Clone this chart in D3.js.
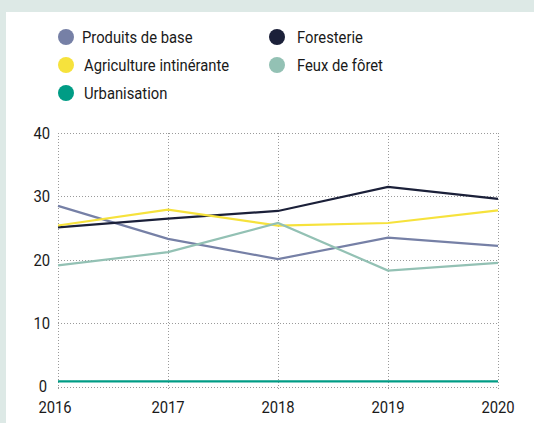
<!DOCTYPE html>
<html>
<head>
<meta charset="utf-8">
<script src="https://cdn.jsdelivr.net/npm/d3@7"></script>
<style>
  html, body { margin: 0; padding: 0; background: #dde9e6; }
  svg { display: block; }
  text { font-family: Roboto, "Noto Sans", sans-serif; fill: #1a1a1a; font-size: 17px; }
</style>
</head>
<body>
<svg id="chart" width="534" height="423"></svg>
<script>
const years = [2016, 2017, 2018, 2019, 2020]
const yTicks = [0, 10, 20, 30, 40]

const produits    = [28.5, 23.3, 20.1, 23.5, 22.2]
const foresterie  = [25.1, 26.5, 27.7, 31.5, 29.6]
const agriculture = [25.4, 27.9, 25.4, 25.8, 27.8]
const feux        = [19.1, 21.2, 25.8, 18.3, 19.5]
const urbanisation = [0.8, 0.8, 0.8, 0.8, 0.8]

const seriesNames  = ["Produits de base", "Foresterie", "Agriculture intinérante", "Feux de fôret", "Urbanisation"]
const seriesValues = [produits, foresterie, agriculture, feux, urbanisation]
const seriesColors = ["#7680a6", "#1b2039", "#f6e23c", "#93c1b4", "#009c85"]

const squeeze = 0.87 // roboto is wider than the condensed face of the original

const svg = d3.select("#chart")

// white panel
svg.append("rect")
  .attr("x", 6).attr("y", 12)
  .attr("width", 534 - 6).attr("height", 423 - 12)
  .attr("fill", "#fff")

const x = d3.scalePoint().domain(years).range([58, 498])
const y = d3.scaleLinear().domain([0, 40]).range([386.5, 133])

// grid
const grid = svg.append("g")
  .attr("stroke", "#9a9a9a").attr("stroke-width", 1).attr("stroke-dasharray", "1,2")
grid.selectAll("line.h").data(yTicks).enter().append("line")
  .attr("x1", x(2016)).attr("x2", x(2020))
  .attr("y1", d => Math.round(y(d)) + 0.5).attr("y2", d => Math.round(y(d)) + 0.5)
grid.selectAll("line.v").data(years).enter().append("line")
  .attr("y1", y(40)).attr("y2", y(0) + 3)
  .attr("x1", d => Math.round(x(d)) + 0.5).attr("x2", d => Math.round(x(d)) + 0.5)

// axes labels
svg.append("g").selectAll("text").data(yTicks).enter().append("text")
  .attr("transform", d => `translate(${d ? 50 : 47},${y(d)}) scale(${squeeze},1)`)
  .attr("text-anchor", "end").attr("dominant-baseline", "central")
  .text(d => d)

svg.append("g").selectAll("text").data(years).enter().append("text")
  .attr("transform", d => `translate(${x(d) - (d == 2016 ? 3 : 0)},413) scale(${squeeze},1)`)
  .attr("text-anchor", "middle")
  .text(d => d)

// lines
const line = d3.line().x((d, i) => x(years[i])).y(d => y(d))
svg.append("g").selectAll("path").data(seriesValues).enter().append("path")
  .attr("d", d => line(d))
  .attr("fill", "none")
  .attr("stroke", (_, i) => seriesColors[i])
  .attr("stroke-width", 2.2)

// legend
const legendPos = [[0, 0], [1, 0], [0, 1], [1, 1], [0, 2]]
const legend = svg.append("g").selectAll("g").data(seriesNames).enter().append("g")
  .attr("transform", (_, i) => `translate(${[66, 277][legendPos[i][0]]},${37 + legendPos[i][1] * 28})`)
legend.append("circle").attr("r", 8).attr("fill", (_, i) => seriesColors[i])
legend.append("text")
  .attr("transform", (_, i) => `translate(${i == 0 ? 16 : (legendPos[i][0] ? 20 : 18)},0) scale(${squeeze},1)`)
  .attr("dominant-baseline", "central")
  .text(d => d)
</script>
</body>
</html>
